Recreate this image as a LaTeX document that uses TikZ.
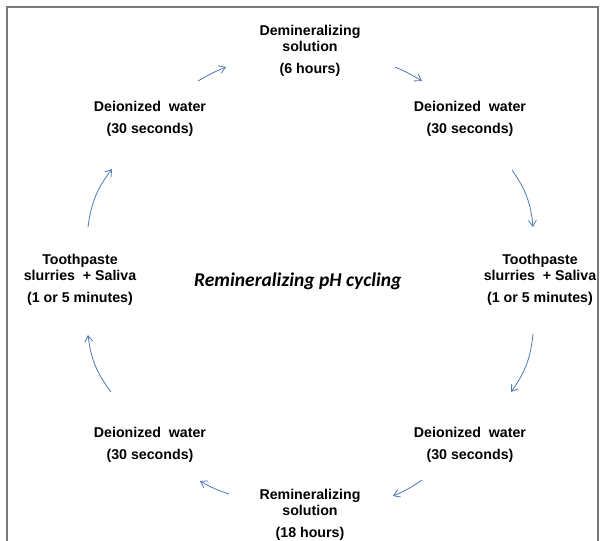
\documentclass[tikz,border=0pt]{standalone}
\usepackage{fontspec}
\setmainfont{Liberation Sans}
\newfontfamily\titlefont{Carlito}
\usetikzlibrary{arrows.meta}

\begin{document}
\begin{tikzpicture}[
        x=1pt, y=-1pt,
        stage/.style={font=\bfseries\fontsize{14.2}{16}\selectfont, align=center, inner sep=0pt},
        arrow/.style={-{Straight Barb[length=6pt, width=8pt]}, draw={rgb,255:red,79;green,120;blue,180}, line width=0.8pt},
        frame/.style={draw={rgb,255:red,120;green,120;blue,120}, line width=1.4pt}
    ]

    \useasboundingbox (0,0) rectangle (603,541);

    % open frame
    \draw[frame] (7,541) -- (7,7) -- (598,7) -- (598,541);

    % stages of the cycle
    \node[stage] (demin) at (310,51) {Demineralizing\\solution\\[6pt](6 hours)};
    \node[stage] (waterTR) at (470,119) {Deionized~ water\\[6pt](30 seconds)};
    \node[stage] (pasteR) at (540,280) {Toothpaste\\slurries~ + Saliva\\[6pt](1 or 5 minutes)};
    \node[stage] (waterBR) at (470,445) {Deionized~ water\\[6pt](30 seconds)};
    \node[stage] (remin) at (310,515) {Remineralizing\\solution\\[6pt](18 hours)};
    \node[stage] (waterBL) at (150,445) {Deionized~ water\\[6pt](30 seconds)};
    \node[stage] (pasteL) at (80,280) {Toothpaste\\slurries~ + Saliva\\[6pt](1 or 5 minutes)};
    \node[stage] (waterTL) at (150,119) {Deionized~ water\\[6pt](30 seconds)};

    \node[font=\titlefont\bfseries\itshape\fontsize{19.5}{22}\selectfont, inner sep=0pt, anchor=west] (title) at (194,281) {Remineralizing pH cycling};

    % arrow ends
    \coordinate (a1s) at (198,81);  \coordinate (a1e) at (226,67);
    \coordinate (a2s) at (395,67);  \coordinate (a2e) at (422,81);
    \coordinate (a3s) at (512,170); \coordinate (a3e) at (533,227);
    \coordinate (a4s) at (533,334); \coordinate (a4e) at (511,392);
    \coordinate (a5s) at (422,480); \coordinate (a5e) at (393,496);
    \coordinate (a6s) at (229,494); \coordinate (a6e) at (200,481);
    \coordinate (a7s) at (111,392); \coordinate (a7e) at (88,335);
    \coordinate (a8s) at (88,227);  \coordinate (a8e) at (112,169);

    % clockwise flow
    \draw[arrow] (a1s) to[bend left=4] (a1e);
    \draw[arrow] (a2s) to[bend left=4] (a2e);
    \draw[arrow] (a3s) to[bend left=15] (a3e);
    \draw[arrow] (a4s) to[bend left=15] (a4e);
    \draw[arrow] (a5s) to[bend left=6] (a5e);
    \draw[arrow] (a6s) to[bend left=6] (a6e);
    \draw[arrow] (a7s) to[bend left=15] (a7e);
    \draw[arrow] (a8s) to[bend left=15] (a8e);

\end{tikzpicture}
\end{document}
